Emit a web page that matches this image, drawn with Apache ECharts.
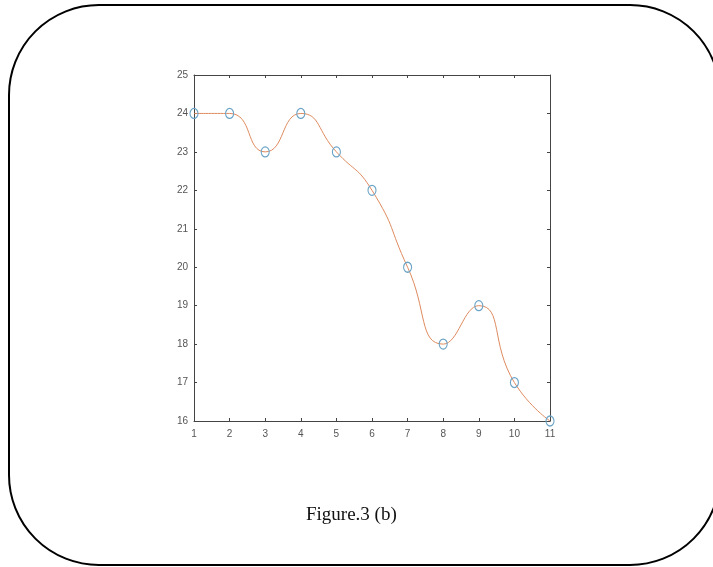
<!DOCTYPE html>
<html><head><meta charset="utf-8">
<script src="https://cdn.jsdelivr.net/npm/echarts@6/dist/echarts.min.js"></script>
<style>html,body{margin:0;padding:0;background:#fff}#c{width:713px;height:567px}</style>
</head><body><div id="c"></div>
<script>
const xValues = [1,2,3,4,5,6,7,8,9,10,11];
const yValues = [24,24,23,24,23,22,20,18,19,17,16];
const xTicks = [1,2,3,4,5,6,7,8,9,10,11];
const yTicks = [16,17,18,19,20,21,22,23,24,25];
const caption = 'Figure.3 (b)';

const chart = echarts.init(document.getElementById('c'));
const axisCol = '#444';
const labelStyle = {color:'#555', fontSize:10, fontFamily:'Liberation Sans, Arial, sans-serif'};
const baseX = {type:'value', min:1, max:11, interval:1, splitLine:{show:false},
  axisLine:{show:true, onZero:false, lineStyle:{color:axisCol, width:1}},
  axisTick:{show:true, inside:true, length:3, lineStyle:{color:axisCol}}};
const baseY = {type:'value', min:16, max:25, interval:1, splitLine:{show:false},
  axisLine:{show:true, onZero:false, lineStyle:{color:axisCol, width:1}},
  axisTick:{show:true, inside:true, length:3, lineStyle:{color:axisCol}}};
chart.setOption({
  animation:false,
  grid:{left:194, right:163, top:75, bottom:146},
  xAxis:[
    Object.assign({}, baseX, {position:'bottom', axisLabel:Object.assign({margin:8, formatter:v=>xTicks.includes(v)?String(v):''}, labelStyle)}),
    Object.assign({}, baseX, {position:'top', axisLabel:{show:false}})
  ],
  yAxis:[
    Object.assign({}, baseY, {position:'left', axisLabel:Object.assign({margin:6, formatter:v=>yTicks.includes(v)?String(v):''}, labelStyle)}),
    Object.assign({}, baseY, {position:'right', axisLabel:{show:false}})
  ],
  series:[{
    type:'line', xAxisIndex:0, yAxisIndex:0,
    data: xValues.map((x,i)=>[x,yValues[i]]),
    smooth:0.55,
    lineStyle:{color:'#DE8A5E', width:1},
    symbol:'circle', symbolSize:[8,10],
    itemStyle:{color:'rgba(255,255,255,0)', borderColor:'#6AA3C6', borderWidth:1.2},
    clip:false
  }],
  graphic:[
    {type:'rect', shape:{x:9, y:5, width:711, height:560, r:90}, style:{fill:'none', stroke:'#000', lineWidth:2}, z:-1},
    {type:'text', x:306, y:506, style:{text:caption, font:'19px "Liberation Serif", "Times New Roman", serif', fill:'#111'}}
  ]
});
</script></body></html>
